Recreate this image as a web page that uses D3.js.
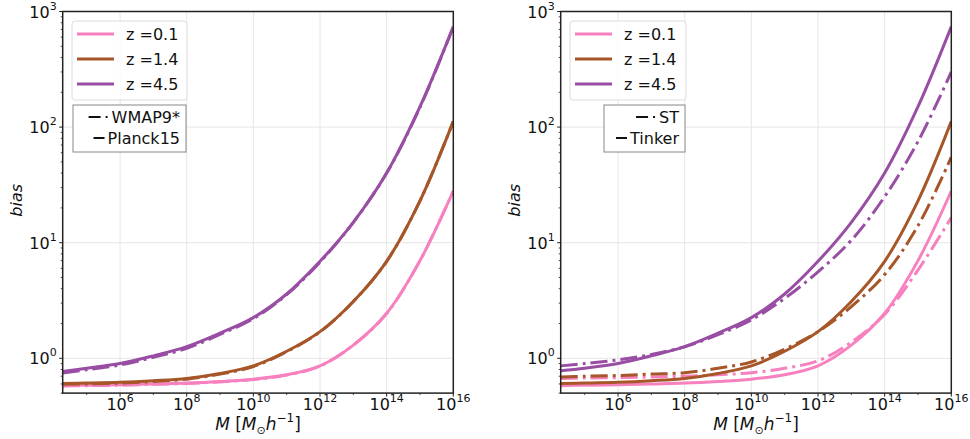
<!DOCTYPE html>
<html>
<head>
<meta charset="utf-8">
<script src="https://cdn.jsdelivr.net/npm/d3@7"></script>
<style>
body{margin:0;background:#fff}
svg{display:block;font-family:"DejaVu Sans",sans-serif}
</style>
</head>
<body>
<div id="chart"></div>
<script>
// halo mass grid (M_sun/h)
var mass=[1.9e4,1e5,1e6,1e7,1e8,1e9,1e10,1e11,1e12,1e13,1e14,1e15,1e16];
var zlabels=["0.1","1.4","4.5"];
var zcolors=["#f781bf","#a65628","#984ea3"];

// left panel: cosmology comparison
var planck_z01=[0.58,0.585,0.59,0.60,0.61,0.63,0.66,0.72,0.86,1.3,2.45,7.0,28];
var planck_z14=[0.605,0.61,0.62,0.64,0.67,0.74,0.86,1.15,1.7,3.1,6.9,23,112];
var planck_z45=[0.77,0.82,0.90,1.05,1.26,1.65,2.25,3.6,6.9,15,40,150,740];
var wmap_z01=[0.575,0.58,0.585,0.595,0.605,0.625,0.655,0.715,0.855,1.3,2.44,7.0,28];
var wmap_z14=[0.595,0.60,0.61,0.63,0.66,0.73,0.85,1.14,1.69,3.1,6.9,23,112];
var wmap_z45=[0.745,0.795,0.875,1.02,1.22,1.61,2.2,3.55,6.8,15,40,148,735];

// right panel: mass function comparison
var tinker_z01=[0.58,0.585,0.59,0.60,0.61,0.63,0.66,0.72,0.86,1.3,2.45,7.0,28];
var tinker_z14=[0.605,0.61,0.62,0.64,0.67,0.74,0.86,1.15,1.7,3.1,6.9,23,112];
var tinker_z45=[0.78,0.82,0.90,1.05,1.26,1.65,2.25,3.6,6.9,15,40,150,740];
var st_z01=[0.67,0.675,0.68,0.69,0.70,0.72,0.75,0.82,0.95,1.38,2.4,5.8,16.5];
var st_z14=[0.69,0.70,0.71,0.73,0.75,0.82,0.93,1.2,1.7,2.8,5.3,14,55];
var st_z45=[0.86,0.90,0.97,1.08,1.26,1.6,2.15,3.3,5.6,10.5,25,75,300];

var xTicks=[1e6,1e8,1e10,1e12,1e14,1e16];
var xTickExp=["6","8","10","12","14","16"];
var yTicks=[1,10,100,1000];
var yTickExp=["0","1","2","3"];

var W=970,H=439;
var svg=d3.select("#chart").append("svg").attr("width",W).attr("height",H);

var panels=[
	{x0:62.7,x1:453.3,dash:[wmap_z01,wmap_z14,wmap_z45],solid:[planck_z01,planck_z14,planck_z45],
	 leg2:["WMAP9*","Planck15"],box:[72,21,115,79],box2:[73,105,113,47]},
	{x0:560.7,x1:951.3,dash:[st_z01,st_z14,st_z45],solid:[tinker_z01,tinker_z14,tinker_z45],
	 leg2:["ST","Tinker"],box:[570,21,116,79],box2:[604,105,81,47]}
];
var y0=11.5,y1=393.1;

panels.forEach(function(p,pi){
	var x=d3.scaleLog().domain([1.9e4,1e16]).range([p.x0,p.x1]);
	var y=d3.scaleLog().domain([0.5,1000]).range([y1,y0]);
	var g=svg.append("g");

	// grid
	g.selectAll(".gx").data([1e6,1e8,1e10,1e12,1e14]).enter().append("line")
		.attr("x1",function(d){return x(d);}).attr("x2",function(d){return x(d);})
		.attr("y1",y0).attr("y2",y1).attr("stroke","#e6e6e6").attr("stroke-width",1);
	g.selectAll(".gy").data([1,10,100]).enter().append("line")
		.attr("y1",function(d){return y(d);}).attr("y2",function(d){return y(d);})
		.attr("x1",p.x0).attr("x2",p.x1).attr("stroke","#e6e6e6").attr("stroke-width",1);

	// curves
	var clipId="clip"+pi;
	svg.append("clipPath").attr("id",clipId).append("rect")
		.attr("x",p.x0).attr("y",y0).attr("width",p.x1-p.x0).attr("height",y1-y0);
	var line=d3.line().x(function(d,i){return x(mass[i]);}).y(function(d){return y(d);})
		.curve(d3.curveCatmullRom.alpha(0.5));
	var cg=g.append("g").attr("clip-path","url(#"+clipId+")");
	for(var k=0;k<3;k++){
		cg.append("path").attr("d",line(p.solid[k])).attr("fill","none")
			.attr("stroke",zcolors[k]).attr("stroke-width",3);
		cg.append("path").attr("d",line(p.dash[k])).attr("fill","none")
			.attr("stroke",zcolors[k]).attr("stroke-width",3)
			.attr("stroke-dasharray","17,5,3,5");
	}

	// frame
	g.append("rect").attr("x",p.x0).attr("y",y0).attr("width",p.x1-p.x0).attr("height",y1-y0)
		.attr("fill","none").attr("stroke","#222").attr("stroke-width",1.5);

	// y ticks
	var minors=[];
	[0.1,1,10,100].forEach(function(dec){
		for(var m=2;m<10;m++){var v=dec*m; if(v>=0.5&&v<1000) minors.push(v);}
	});
	g.selectAll(".ym").data(minors).enter().append("line")
		.attr("x1",p.x0-2).attr("x2",p.x0).attr("y1",function(d){return y(d);}).attr("y2",function(d){return y(d);})
		.attr("stroke","#222").attr("stroke-width",0.8);
	g.selectAll(".yM").data(yTicks).enter().append("line")
		.attr("x1",p.x0-3.5).attr("x2",p.x0).attr("y1",function(d){return y(d);}).attr("y2",function(d){return y(d);})
		.attr("stroke","#222").attr("stroke-width",1);
	yTicks.forEach(function(t,i){
		var tx=g.append("text").attr("x",p.x0-6).attr("y",y(t)+6).attr("text-anchor","end")
			.attr("font-size",16).attr("fill","#111");
		tx.append("tspan").text("10");
		tx.append("tspan").attr("font-size",11).attr("dy",-8).text(yTickExp[i]);
	});

	// x ticks
	g.selectAll(".xm").data([1e5,1e7,1e9,1e11,1e13,1e15]).enter().append("line")
		.attr("x1",function(d){return x(d);}).attr("x2",function(d){return x(d);})
		.attr("y1",y1).attr("y2",y1+2).attr("stroke","#222").attr("stroke-width",0.8);
	g.selectAll(".xM").data(xTicks).enter().append("line")
		.attr("x1",function(d){return x(d);}).attr("x2",function(d){return x(d);})
		.attr("y1",y1).attr("y2",y1+3.5).attr("stroke","#222").attr("stroke-width",1);
	xTicks.forEach(function(t,i){
		var tx=g.append("text").attr("x",x(t)).attr("y",410).attr("text-anchor","middle")
			.attr("font-size",16).attr("fill","#111");
		tx.append("tspan").text("10");
		tx.append("tspan").attr("font-size",11).attr("dy",-8).text(xTickExp[i]);
	});

	// axis labels
	var cx=(p.x0+p.x1)/2;
	var xl=g.append("text").attr("x",cx).attr("y",430).attr("text-anchor","middle")
		.attr("font-size",17).attr("fill","#111");
	xl.append("tspan").attr("font-style","italic").text("M");
	xl.append("tspan").text(" [");
	xl.append("tspan").attr("font-style","italic").text("M");
	xl.append("tspan").attr("font-size",11).attr("dy",4).text("\u2299");
	xl.append("tspan").attr("font-style","italic").attr("dy",-4).text("h");
	xl.append("tspan").attr("font-size",12).attr("dy",-8).text("\u22121");
	xl.append("tspan").attr("dy",8).text("]");
	g.append("text").attr("transform","translate("+(p.x0-40.5)+","+((y0+y1)/2-2)+") rotate(-90)")
		.attr("text-anchor","middle").attr("font-size",16).attr("font-style","italic")
		.attr("fill","#111").text("bias");

	// legend 1: redshift colours
	var b=p.box;
	g.append("rect").attr("x",b[0]).attr("y",b[1]).attr("width",b[2]).attr("height",b[3])
		.attr("rx",3).attr("fill","#fff").attr("fill-opacity",0.8).attr("stroke","#dcdcdc");
	zlabels.forEach(function(z,i){
		var ly=b[1]+13+i*25;
		g.append("line").attr("x1",b[0]+5).attr("x2",b[0]+42).attr("y1",ly).attr("y2",ly)
			.attr("stroke",zcolors[i]).attr("stroke-width",3);
		g.append("text").attr("x",b[0]+54).attr("y",ly+6).attr("font-size",16).attr("fill","#111")
			.text("z ="+z);
	});

	// legend 2: line styles
	var b2=p.box2;
	g.append("rect").attr("x",b2[0]).attr("y",b2[1]).attr("width",b2[2]).attr("height",b2[3])
		.attr("fill","#fff").attr("stroke","#888").attr("stroke-width",1);
	var tr=b2[0]+b2[2]-6;
	p.leg2.forEach(function(lab,i){
		var ly=b2[1]+12+i*21;
		var t=g.append("text").attr("x",tr).attr("y",ly+6).attr("text-anchor","end")
			.attr("font-size",16).attr("fill","#111").text(lab);
		var tw=t.node().getComputedTextLength();
		var hx=tr-tw-3;
		if(i===0){
			g.append("line").attr("x1",hx-20).attr("x2",hx).attr("y1",ly).attr("y2",ly)
				.attr("stroke","#111").attr("stroke-width",2).attr("stroke-dasharray","12,5,2,5");
		}else{
			g.append("line").attr("x1",hx-11).attr("x2",hx).attr("y1",ly).attr("y2",ly)
				.attr("stroke","#111").attr("stroke-width",2);
		}
	});
});
</script>
</body>
</html>
